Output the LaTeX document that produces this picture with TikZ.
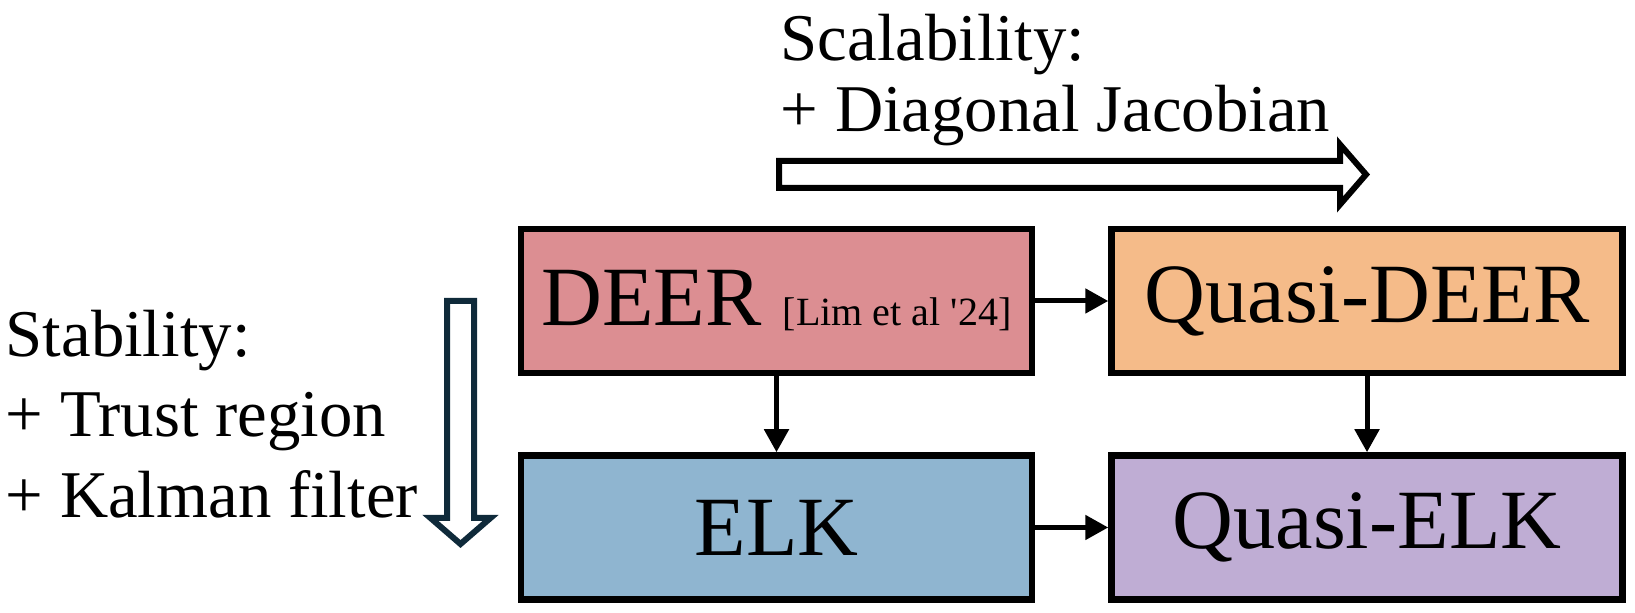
\documentclass[tikz,border=0pt]{standalone}
\usepackage{fontspec}
\setmainfont{Liberation Serif}
\usepackage{xcolor}
\usetikzlibrary{positioning, arrows.meta}

\definecolor{deerred}{HTML}{DC8E92}
\definecolor{qdeerorange}{HTML}{F5BB89}
\definecolor{elkblue}{HTML}{8FB5D0}
\definecolor{qelkpurple}{HTML}{BFADD4}
\definecolor{stabnavy}{HTML}{0F2A3A}

\tikzset{
    methodbox/.style={draw=black, line width=0.065cm, minimum width=5.11cm,
        minimum height=1.44cm, inner sep=0pt, font=\fontsize{24}{28}\selectfont},
    link/.style={-{Triangle[length=0.23cm, width=0.24cm]}, line width=0.05cm},
    blockarrow/.style={line width=0.06cm, fill=white, line join=miter},
    sidelabel/.style={inner sep=0pt, align=left, anchor=north west}
}

\begin{document}
\begin{tikzpicture}
        \useasboundingbox (0,0) rectangle (16.35,6.13);

        \node[methodbox, fill=deerred] at (7.765,3.12) (deer)
            {DEER~{\fontsize{11.4}{13}\selectfont [Lim et al \textquotesingle24]}};
        \node[methodbox, fill=qdeerorange, right=0.73cm of deer] (qdeer) {Quasi-DEER};
        \node[methodbox, fill=elkblue, below=0.76cm of deer] (elk) {ELK};
        \node[methodbox, fill=qelkpurple, right=0.73cm of elk] (qelk) {Quasi-ELK};

        \draw[link] (deer) -- (qdeer);
        \draw[link] (deer) -- (elk);
        \draw[link] (qdeer) -- (qelk);
        \draw[link] (elk) -- (qelk);

        % block arrows
        \draw[blockarrow] (7.79,4.25) -- (13.40,4.25) -- (13.40,4.085) -- (13.66,4.385)
            -- (13.40,4.685) -- (13.40,4.52) -- (7.79,4.52) -- cycle;
        \draw[blockarrow, draw=stabnavy] (4.47,3.12) -- (4.47,0.95) -- (4.305,0.95) -- (4.605,0.69)
            -- (4.905,0.95) -- (4.74,0.95) -- (4.74,3.12) -- cycle;

        \node[sidelabel, font=\fontsize{19}{20.2}\selectfont] (scal) at (7.80,6.00)
            {Scalability:\\+ Diagonal Jacobian};
        \node[sidelabel, font=\fontsize{19}{23}\selectfont] (stab) at (0.05,3.04)
            {Stability:\\+ Trust region\\+ Kalman filter};
\end{tikzpicture}
\end{document}
